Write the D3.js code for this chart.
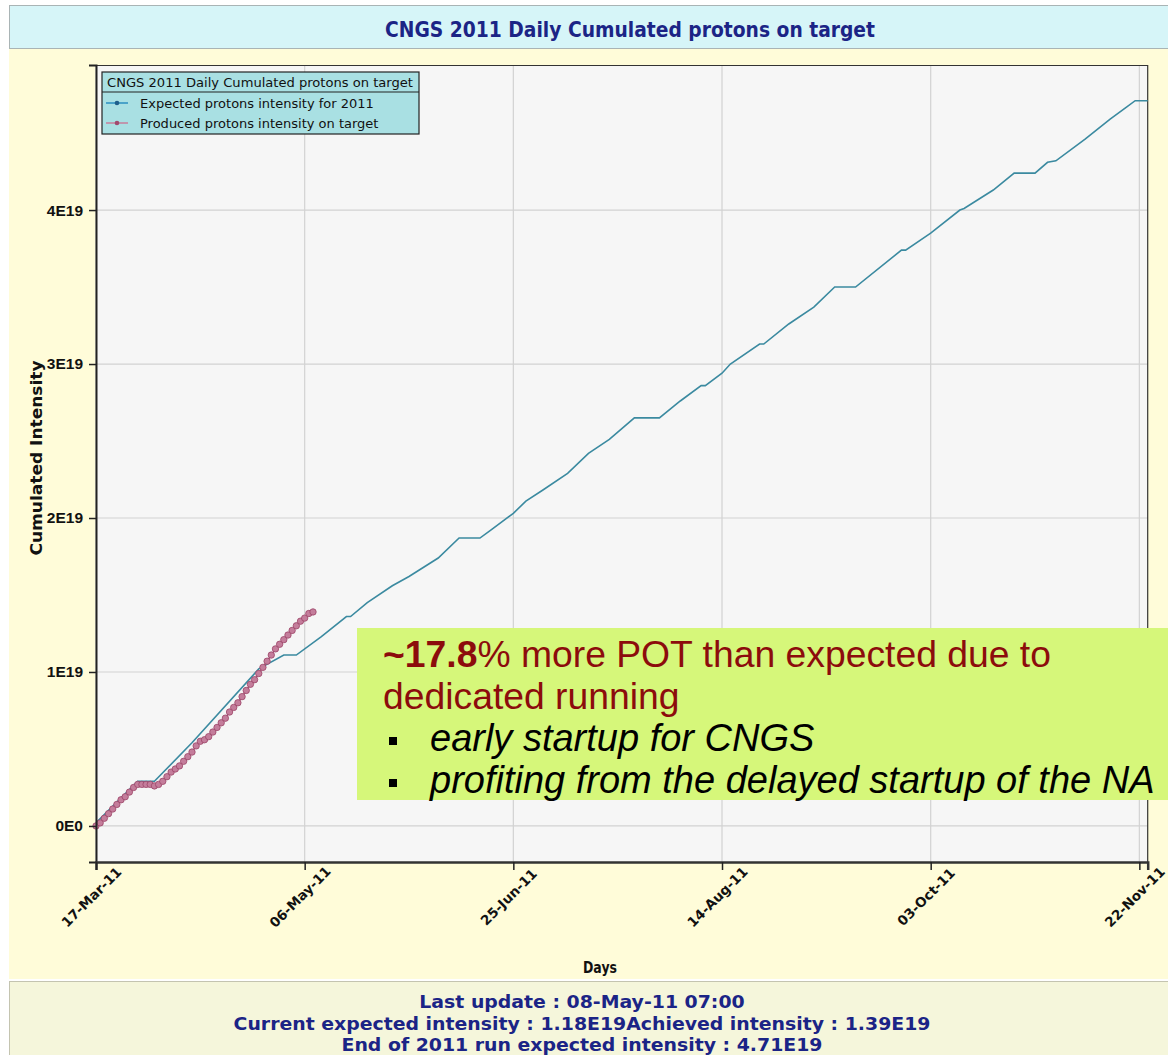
<!DOCTYPE html>
<html>
<head>
<meta charset="utf-8">
<script src="https://cdn.jsdelivr.net/npm/d3@7"></script>
<style>
  body { margin: 0; background: #fff; }
  svg { display: block; }
</style>
</head>
<body>
<div id="chart"></div>
<script>
// ---- data (values in units of 1E19 protons) ----
var xTickLabels = ["17-Mar-11", "06-May-11", "25-Jun-11", "14-Aug-11", "03-Oct-11", "22-Nov-11"];
var yTickValues = [0, 1, 2, 3, 4];
var yTickLabels = ["0E0", "1E19", "2E19", "3E19", "4E19"];

var expectedDates = ["17-Mar-11", "27-Mar-11", "31-Mar-11", "09-Apr-11", "25-Apr-11", "01-May-11",
  "04-May-11", "10-May-11", "16-May-11", "17-May-11", "21-May-11", "27-May-11", "31-May-11",
  "07-Jun-11", "12-Jun-11", "17-Jun-11", "20-Jun-11", "25-Jun-11", "28-Jun-11", "02-Jul-11",
  "08-Jul-11", "13-Jul-11", "18-Jul-11", "24-Jul-11", "30-Jul-11", "04-Aug-11", "09-Aug-11",
  "10-Aug-11", "14-Aug-11", "16-Aug-11", "23-Aug-11", "24-Aug-11", "30-Aug-11", "05-Sep-11",
  "10-Sep-11", "15-Sep-11", "26-Sep-11", "27-Sep-11", "03-Oct-11", "10-Oct-11", "11-Oct-11",
  "18-Oct-11", "23-Oct-11", "28-Oct-11", "31-Oct-11", "02-Nov-11", "09-Nov-11", "15-Nov-11",
  "19-Nov-11", "21-Nov-11", "24-Nov-11"];
var expectedValues = [0.02, 0.29, 0.29, 0.54, 1.02, 1.11,
  1.11, 1.23, 1.36, 1.36, 1.45, 1.56, 1.62,
  1.74, 1.87, 1.87, 1.93, 2.03, 2.11, 2.18,
  2.29, 2.42, 2.51, 2.65, 2.65, 2.76, 2.86,
  2.86, 2.94, 3.00, 3.13, 3.13, 3.26, 3.37,
  3.50, 3.50, 3.74, 3.74, 3.85, 4.00, 4.01,
  4.13, 4.24, 4.24, 4.31, 4.32, 4.46, 4.59,
  4.67, 4.71, 4.71];

// produced: one value per day starting 17-Mar-11
var producedStart = "17-Mar-11";
var producedValues = [0.00, 0.02, 0.05, 0.08, 0.11, 0.14, 0.17, 0.19, 0.22, 0.25,
  0.27, 0.27, 0.27, 0.27, 0.26, 0.27, 0.29, 0.32, 0.35, 0.37,
  0.39, 0.42, 0.45, 0.48, 0.52, 0.55, 0.56, 0.58, 0.61, 0.64,
  0.67, 0.70, 0.74, 0.77, 0.80, 0.84, 0.88, 0.92, 0.95, 0.99,
  1.03, 1.07, 1.11, 1.15, 1.18, 1.21, 1.24, 1.27, 1.30, 1.33,
  1.35, 1.38, 1.39];

var xStart = "17-Mar-11";
var xEnd = "24-Nov-11";

var parseDate = d3.timeParse("%d-%b-%y");

var svg = d3.select("#chart")
  .append("svg")
  .attr("width", 1168)
  .attr("height", 1055);

// page frame
svg.append("rect").attr("x", 9).attr("y", 49).attr("width", 1159).attr("height", 930)
  .attr("fill", "#fffcd9");
svg.append("rect").attr("x", 9.5).attr("y", 5.5).attr("width", 1160).attr("height", 43)
  .attr("fill", "#d6f5f8").attr("stroke", "#a9b4b5");
svg.append("rect").attr("x", 9.5).attr("y", 981.5).attr("width", 1160).attr("height", 80)
  .attr("fill", "#f5f6db").attr("stroke", "#c4c4b0");

svg.append("text")
  .attr("x", 630)
  .attr("y", 37)
  .attr("text-anchor", "middle")
  .attr("font-family", "DejaVu Sans, sans-serif")
  .attr("font-weight", "bold")
  .attr("font-size", "21px")
  .attr("textLength", 490)
  .attr("lengthAdjust", "spacingAndGlyphs")
  .attr("fill", "#1b2486")
  .text("CNGS 2011 Daily Cumulated protons on target");

var margin = { left: 96, top: 65 };
var width = 1051.7;
var height = 797;

var g = svg.append("g")
  .attr("transform", "translate(" + margin.left + ", " + margin.top + ")");

var x = d3.scaleTime()
  .domain([parseDate(xStart), parseDate(xEnd)])
  .range([0, width]);

var y = d3.scaleLinear()
  .domain([-0.234, 4.942])
  .range([height, 0]);

g.append("rect")
  .attr("width", width)
  .attr("height", height)
  .attr("fill", "#f6f6f6");

var xTickDates = xTickLabels.map(parseDate);

// grid
g.append("g").selectAll("line")
  .data(xTickDates)
  .enter().append("line")
  .attr("x1", function (d) { return x(d); })
  .attr("x2", function (d) { return x(d); })
  .attr("y1", 0)
  .attr("y2", height)
  .attr("stroke", "#d2d2d2")
  .attr("stroke-width", 1.2);

g.append("g").selectAll("line")
  .data(yTickValues)
  .enter().append("line")
  .attr("x1", 0)
  .attr("x2", width)
  .attr("y1", function (d) { return y(d); })
  .attr("y2", function (d) { return y(d); })
  .attr("stroke", "#d2d2d2")
  .attr("stroke-width", 1.2);

// border top/right
g.append("path")
  .attr("d", "M0,0.5H" + width + "V" + height)
  .attr("fill", "none")
  .attr("stroke", "#333")
  .attr("stroke-width", 1.2);

// Expected line
var expected = expectedDates.map(function (d, i) {
  return { date: parseDate(d), value: expectedValues[i] };
});

var line = d3.line()
  .x(function (d) { return x(d.date); })
  .y(function (d) { return y(d.value); });

g.append("path")
  .datum(expected)
  .attr("d", line)
  .attr("fill", "none")
  .attr("stroke", "#3b8aa0")
  .attr("stroke-width", 1.6);

// Produced line + points
var produced = producedValues.map(function (v, i) {
  return { date: d3.timeDay.offset(parseDate(producedStart), i), value: v };
});

g.append("path")
  .datum(produced)
  .attr("d", line)
  .attr("fill", "none")
  .attr("stroke", "#a9577a")
  .attr("stroke-width", 1.5);

g.append("g").selectAll("circle")
  .data(produced)
  .enter().append("circle")
  .attr("cx", function (d) { return x(d.date); })
  .attr("cy", function (d) { return y(d.value); })
  .attr("r", 3.2)
  .attr("fill", "#c47d9b")
  .attr("stroke", "#9c4467")
  .attr("stroke-width", 0.8);

// Y-Axis
var yAxisCall = d3.axisLeft(y)
  .tickValues(yTickValues)
  .tickSize(7)
  .tickPadding(6)
  .tickFormat(function (d, i) { return yTickLabels[i]; });

var yAxis = g.append("g")
  .attr("class", "y-axis")
  .call(yAxisCall);
yAxis.select(".domain").attr("stroke", "#222").attr("stroke-width", 2);
yAxis.selectAll(".tick line").attr("stroke", "#222").attr("stroke-width", 1.5);
yAxis.selectAll("text")
  .attr("font-family", "Liberation Sans, Arial, sans-serif")
  .attr("font-weight", "bold")
  .attr("font-size", "15.5px")
  .attr("fill", "#111");

// X-Axis
var xAxisCall = d3.axisBottom(x)
  .tickValues(xTickDates)
  .tickSize(8)
  .tickFormat(function (d, i) { return xTickLabels[i]; });

var xAxis = g.append("g")
  .attr("class", "x axis")
  .attr("transform", "translate(0, " + height + ")")
  .call(xAxisCall);
xAxis.select(".domain").attr("stroke", "#333").attr("stroke-width", 2.5);
xAxis.selectAll(".tick line").attr("stroke", "#222").attr("stroke-width", 1.5);
xAxis.selectAll("text")
  .attr("font-family", "DejaVu Sans, sans-serif")
  .attr("font-weight", "bold")
  .attr("font-size", "13.5px")
  .attr("fill", "#111")
  .attr("text-anchor", "middle")
  .attr("x", 0)
  .attr("y", 0)
  .attr("dy", "0.35em")
  .attr("transform", "translate(-5, 35) rotate(-45)");

// axis labels
svg.append("text")
  .attr("x", 600)
  .attr("y", 973)
  .attr("text-anchor", "middle")
  .attr("font-family", "DejaVu Sans, sans-serif")
  .attr("font-weight", "bold")
  .attr("font-size", "15px")
  .attr("textLength", 34)
  .attr("lengthAdjust", "spacingAndGlyphs")
  .attr("fill", "#111")
  .text("Days");

svg.append("text")
  .attr("transform", "translate(42, 458) rotate(-90)")
  .attr("text-anchor", "middle")
  .attr("font-family", "DejaVu Sans, sans-serif")
  .attr("font-weight", "bold")
  .attr("font-size", "16px")
  .attr("textLength", 195)
  .attr("lengthAdjust", "spacingAndGlyphs")
  .attr("fill", "#111")
  .text("Cumulated Intensity");

// Legend
var legend = svg.append("g").attr("transform", "translate(102, 72)");
legend.append("rect")
  .attr("width", 317)
  .attr("height", 62)
  .attr("fill", "#a9e0e3")
  .attr("stroke", "#222")
  .attr("stroke-width", 1.2);
legend.append("line")
  .attr("x1", 0).attr("x2", 317)
  .attr("y1", 20).attr("y2", 20)
  .attr("stroke", "#222")
  .attr("stroke-width", 1.2);
legend.append("text")
  .attr("x", 158)
  .attr("y", 15)
  .attr("text-anchor", "middle")
  .attr("font-family", "DejaVu Sans, sans-serif")
  .attr("font-size", "13px")
  .attr("textLength", 306)
  .attr("lengthAdjust", "spacingAndGlyphs")
  .attr("fill", "#111")
  .text("CNGS 2011 Daily Cumulated protons on target");

var legendItems = [
  { label: "Expected protons intensity for 2011", line: "#2b8fc0", dot: "#1f5f8a" },
  { label: "Produced protons intensity on target", line: "#c77f9b", dot: "#a04a6e" }
];
var items = legend.selectAll(".item")
  .data(legendItems)
  .enter().append("g")
  .attr("class", "item")
  .attr("transform", function (d, i) { return "translate(0," + (31 + i * 20) + ")"; });
items.append("line")
  .attr("x1", 4).attr("x2", 26)
  .attr("stroke", function (d) { return d.line; })
  .attr("stroke-width", 1.5);
items.append("circle")
  .attr("cx", 15).attr("r", 2.3)
  .attr("fill", function (d) { return d.dot; });
items.append("text")
  .attr("x", 38)
  .attr("y", 4.5)
  .attr("font-family", "DejaVu Sans, sans-serif")
  .attr("font-size", "13px")
  .attr("fill", "#111")
  .text(function (d) { return d.label; });

// Annotation box
var note = svg.append("g");
note.append("rect")
  .attr("x", 357)
  .attr("y", 628)
  .attr("width", 811)
  .attr("height", 172)
  .attr("fill", "#d6f77a");

var head = note.append("text")
  .attr("x", 383)
  .attr("y", 667)
  .attr("font-family", "Liberation Sans, Arial, sans-serif")
  .attr("font-size", "37.3px")
  .attr("fill", "#8c0c0c");
head.append("tspan").attr("font-weight", "bold").text("~17.8");
head.append("tspan").text("% more POT than expected due to");

note.append("text")
  .attr("x", 383)
  .attr("y", 709)
  .attr("font-family", "Liberation Sans, Arial, sans-serif")
  .attr("font-size", "37.3px")
  .attr("fill", "#8c0c0c")
  .text("dedicated running");

var bullets = ["early startup for CNGS", "profiting from the delayed startup of the NA"];
bullets.forEach(function (b, i) {
  note.append("rect")
    .attr("x", 389)
    .attr("y", 737 + i * 42)
    .attr("width", 8)
    .attr("height", 8)
    .attr("fill", "#000");
  note.append("text")
    .attr("x", 430)
    .attr("y", 751 + i * 42)
    .attr("font-family", "Liberation Sans, Arial, sans-serif")
    .attr("font-style", "italic")
    .attr("font-size", "38px")
    .attr("fill", "#000")
    .text(b);
});

// bottom info lines (narrowed glyphs stretched a little to the reference width)
var infoLines = [
  "Last update : 08-May-11 07:00",
  "Current expected intensity : 1.18E19Achieved intensity : 1.39E19",
  "End of 2011 run expected intensity : 4.71E19"
];
svg.append("g").selectAll("text")
  .data(infoLines)
  .enter().append("text")
  .attr("x", 582)
  .attr("y", function (d, i) { return 1008 + i * 21.5; })
  .attr("text-anchor", "middle")
  .attr("font-family", "DejaVu Sans, sans-serif")
  .attr("font-weight", "bold")
  .attr("font-size", "17px")
  .attr("fill", "#1b2486")
  .text(function (d) { return d; })
  .each(function () {
    var w = this.getComputedTextLength();
    d3.select(this)
      .attr("textLength", w * 1.11)
      .attr("lengthAdjust", "spacingAndGlyphs");
  });
</script>
</body>
</html>
